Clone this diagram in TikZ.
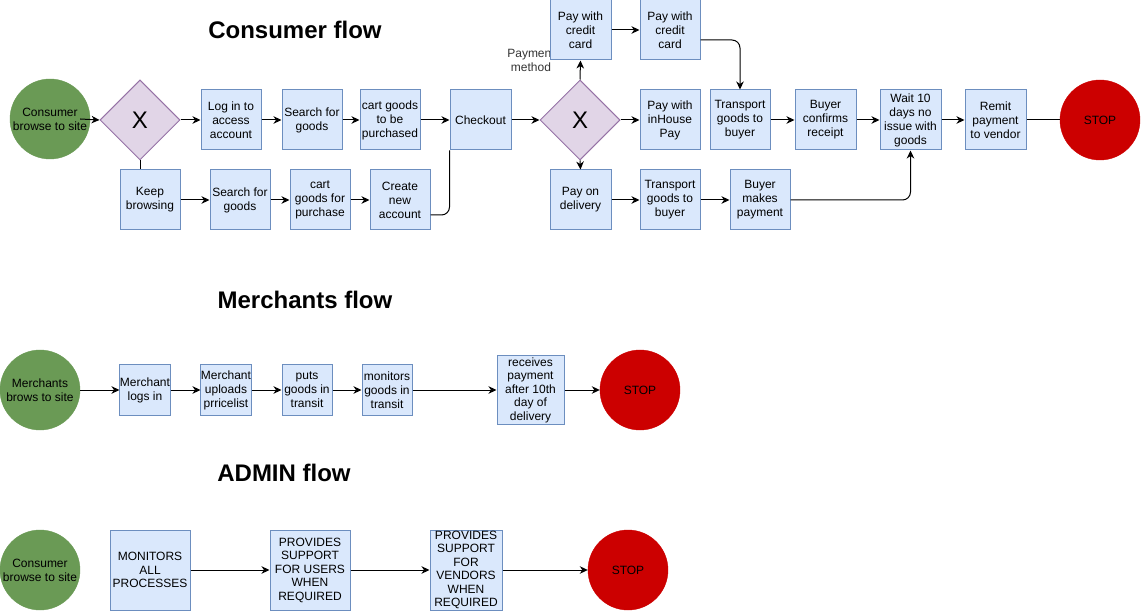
\documentclass[tikz,border=0pt]{standalone}
\usepackage{fontspec}
\setmainfont{Liberation Sans}
\usepackage{tikz}
\usetikzlibrary{arrows.meta,positioning,shapes.geometric}
\usepackage{xcolor}
\definecolor{taskfill}{HTML}{DAE8FC}
\definecolor{taskline}{HTML}{6C8EBF}
\definecolor{gatefill}{HTML}{E1D5E7}
\definecolor{gateline}{HTML}{9673A6}
\definecolor{startgreen}{HTML}{6A9A55}
\definecolor{stopred}{HTML}{CC0000}
\definecolor{labelgray}{HTML}{333333}
\tikzset{
  task/.style={draw=taskline,fill=taskfill,line width=1pt,align=center,inner sep=0pt,
    minimum width=60pt,minimum height=60pt,font=\fontsize{12}{14}\selectfont},
  smalltask/.style={task,minimum width=50pt,minimum height=50pt},
  bigtask/.style={task,minimum width=80pt,minimum height=80pt,font=\fontsize{12}{13.5}\selectfont},
  startev/.style={circle,draw=startgreen,fill=startgreen,minimum size=80pt,inner sep=0pt,
    align=center,font=\fontsize{12}{14}\selectfont},
  stopev/.style={circle,draw=stopred,fill=stopred,minimum size=80pt,inner sep=0pt,
    font=\fontsize{12}{14}\selectfont},
  gate/.style={diamond,aspect=1,draw=gateline,fill=gatefill,line width=1pt,inner sep=0pt,
    minimum width=80pt,minimum height=80pt,font=\fontsize{24}{24}\selectfont},
  flowtitle/.style={font=\bfseries\fontsize{24}{27}\selectfont},
  arrow/.style={-{Stealth[length=8pt,width=7.5pt,inset=2.5pt]},line width=1pt},
  plainline/.style={line width=1pt},
  labelstyle/.style={align=center,text=labelgray,font=\fontsize{12}{14}\selectfont}
}
\begin{document}
\begin{tikzpicture}[x=1pt,y=-1pt]
  \useasboundingbox (0,0) rectangle (1141,612);
  \node[flowtitle] (tconsumer) at (295,30) {Consumer flow};
  \node[flowtitle] (tmerchant) at (305,300) {Merchants flow};
  \node[flowtitle] (tadmin) at (284,473) {ADMIN flow};

  \node[startev] (cbrowse) at (50,119) {Consumer\\browse to site};
  \node[gate] (xora) at (140,120) {X};
  \node[task] (login) at (231,120) {Log in to\\access\\account};
  \node[task] (searcha) at (312,120) {Search for\\goods};
  \node[task] (carta) at (390,120) {cart goods\\to be\\purchased};
  \node[task,minimum width=61pt] (checkout) at (480.5,120) {Checkout};
  \node[gate] (xorb) at (580,120) {X};
  \node[labelstyle] (paylabel) at (531,60) {Payment\\method};
  \node[task,minimum width=61pt] (carda) at (580.5,30) {Pay with\\credit\\card};
  \node[task] (cardb) at (670,30) {Pay with\\credit\\card};
  \node[task] (inhouse) at (670,120) {Pay with\\inHouse\\Pay};
  \node[task] (transa) at (740,120) {Transport\\goods to\\buyer};
  \node[task,minimum width=61pt] (confirm) at (825.5,120) {Buyer\\confirms\\receipt};
  \node[task,minimum width=61pt] (wait) at (910.5,120) {Wait 10\\days no\\issue with\\goods};
  \node[task,minimum width=61pt] (remit) at (995.5,120) {Remit\\payment\\to vendor};
  \node[stopev] (cstop) at (1100,120) {STOP};
  \node[task] (keep) at (150,200) {Keep\\browsing};
  \node[task] (searchb) at (240,200) {Search for\\goods};
  \node[task] (cartb) at (320,200) {cart\\goods for\\purchase};
  \node[task] (newacc) at (400,200) {Create\\new\\account};
  \node[task,minimum width=61pt] (cod) at (580.5,200) {Pay on\\delivery};
  \node[task] (transb) at (670,200) {Transport\\goods to\\buyer};
  \node[task] (buyerpay) at (760,200) {Buyer\\makes\\payment};

  \draw[arrow] ([xshift=-10pt]cbrowse.east) -- (xora.west);
  \draw[arrow] (xora) -- (login);
  \draw[arrow] (login) -- (searcha);
  \draw[arrow] (searcha) -- (carta);
  \draw[arrow] (carta) -- (checkout);
  \draw[arrow] (checkout) -- (xorb);
  \draw[arrow] (xorb) -- (inhouse);
  \draw[arrow] (xorb.north) -- (carda.south);
  \draw[arrow] (xorb.south) -- (cod.north);
  \draw[arrow] (carda) -- (cardb);
  \draw[arrow,rounded corners=8pt] ([yshift=-10pt]cardb.east) -| (transa.north);
  \draw[arrow] (transa) -- (confirm);
  \draw[arrow] (confirm) -- (wait);
  \draw[arrow] (wait) -- (remit);
  \draw[plainline] (remit) -- (cstop);
  \draw[plainline] (xora.south) -- (xora.south |- keep.north);
  \draw[arrow] (keep) -- (searchb);
  \draw[arrow] (searchb) -- (cartb);
  \draw[arrow] (cartb) -- (newacc);
  \draw[plainline,rounded corners=8pt] ([yshift=-15pt]newacc.east) -| (checkout.south west);
  \draw[arrow] (cod) -- (transb);
  \draw[arrow] (transb) -- (buyerpay);
  \draw[arrow,rounded corners=8pt] (buyerpay.east) -| (wait.south);

  \node[startev] (mbrowse) at (40,390) {Merchants\\brows to site};
  \node[smalltask] (mlogin) at (145,390) {Merchant\\logs in};
  \node[smalltask] (mupload) at (226,390) {Merchant\\uploads\\prricelist};
  \node[smalltask] (mputs) at (307,390) {puts\\goods in\\transit};
  \node[smalltask] (mmonitor) at (387,390) {monitors\\goods in\\transit};
  \node[task,minimum width=67pt,minimum height=68pt,font=\fontsize{12}{13.5}\selectfont] (mpay) at (530.5,390) {receives\\payment\\after 10th\\day of\\delivery};
  \node[stopev] (mstop) at (640,390) {STOP};
  \draw[arrow] (mbrowse) -- (mlogin);
  \draw[arrow] (mlogin) -- (mupload);
  \draw[arrow] (mupload) -- (mputs);
  \draw[arrow] (mputs) -- (mmonitor);
  \draw[arrow] (mmonitor) -- (mpay);
  \draw[arrow] (mpay) -- (mstop);

  \node[startev] (abrowse) at (40,570) {Consumer\\browse to site};
  \node[bigtask] (amonitor) at (150,570) {MONITORS\\ALL\\PROCESSES};
  \node[bigtask] (ausers) at (310,570) {PROVIDES\\SUPPORT\\FOR USERS\\WHEN\\REQUIRED};
  \node[bigtask,minimum width=72pt] (avendors) at (466,570) {PROVIDES\\SUPPORT\\FOR\\VENDORS\\WHEN\\REQUIRED};
  \node[stopev] (astop) at (628,570) {STOP};
  \draw[arrow] (amonitor) -- (ausers);
  \draw[arrow] (ausers) -- (avendors);
  \draw[arrow] (avendors) -- (astop);
\end{tikzpicture}
\end{document}
